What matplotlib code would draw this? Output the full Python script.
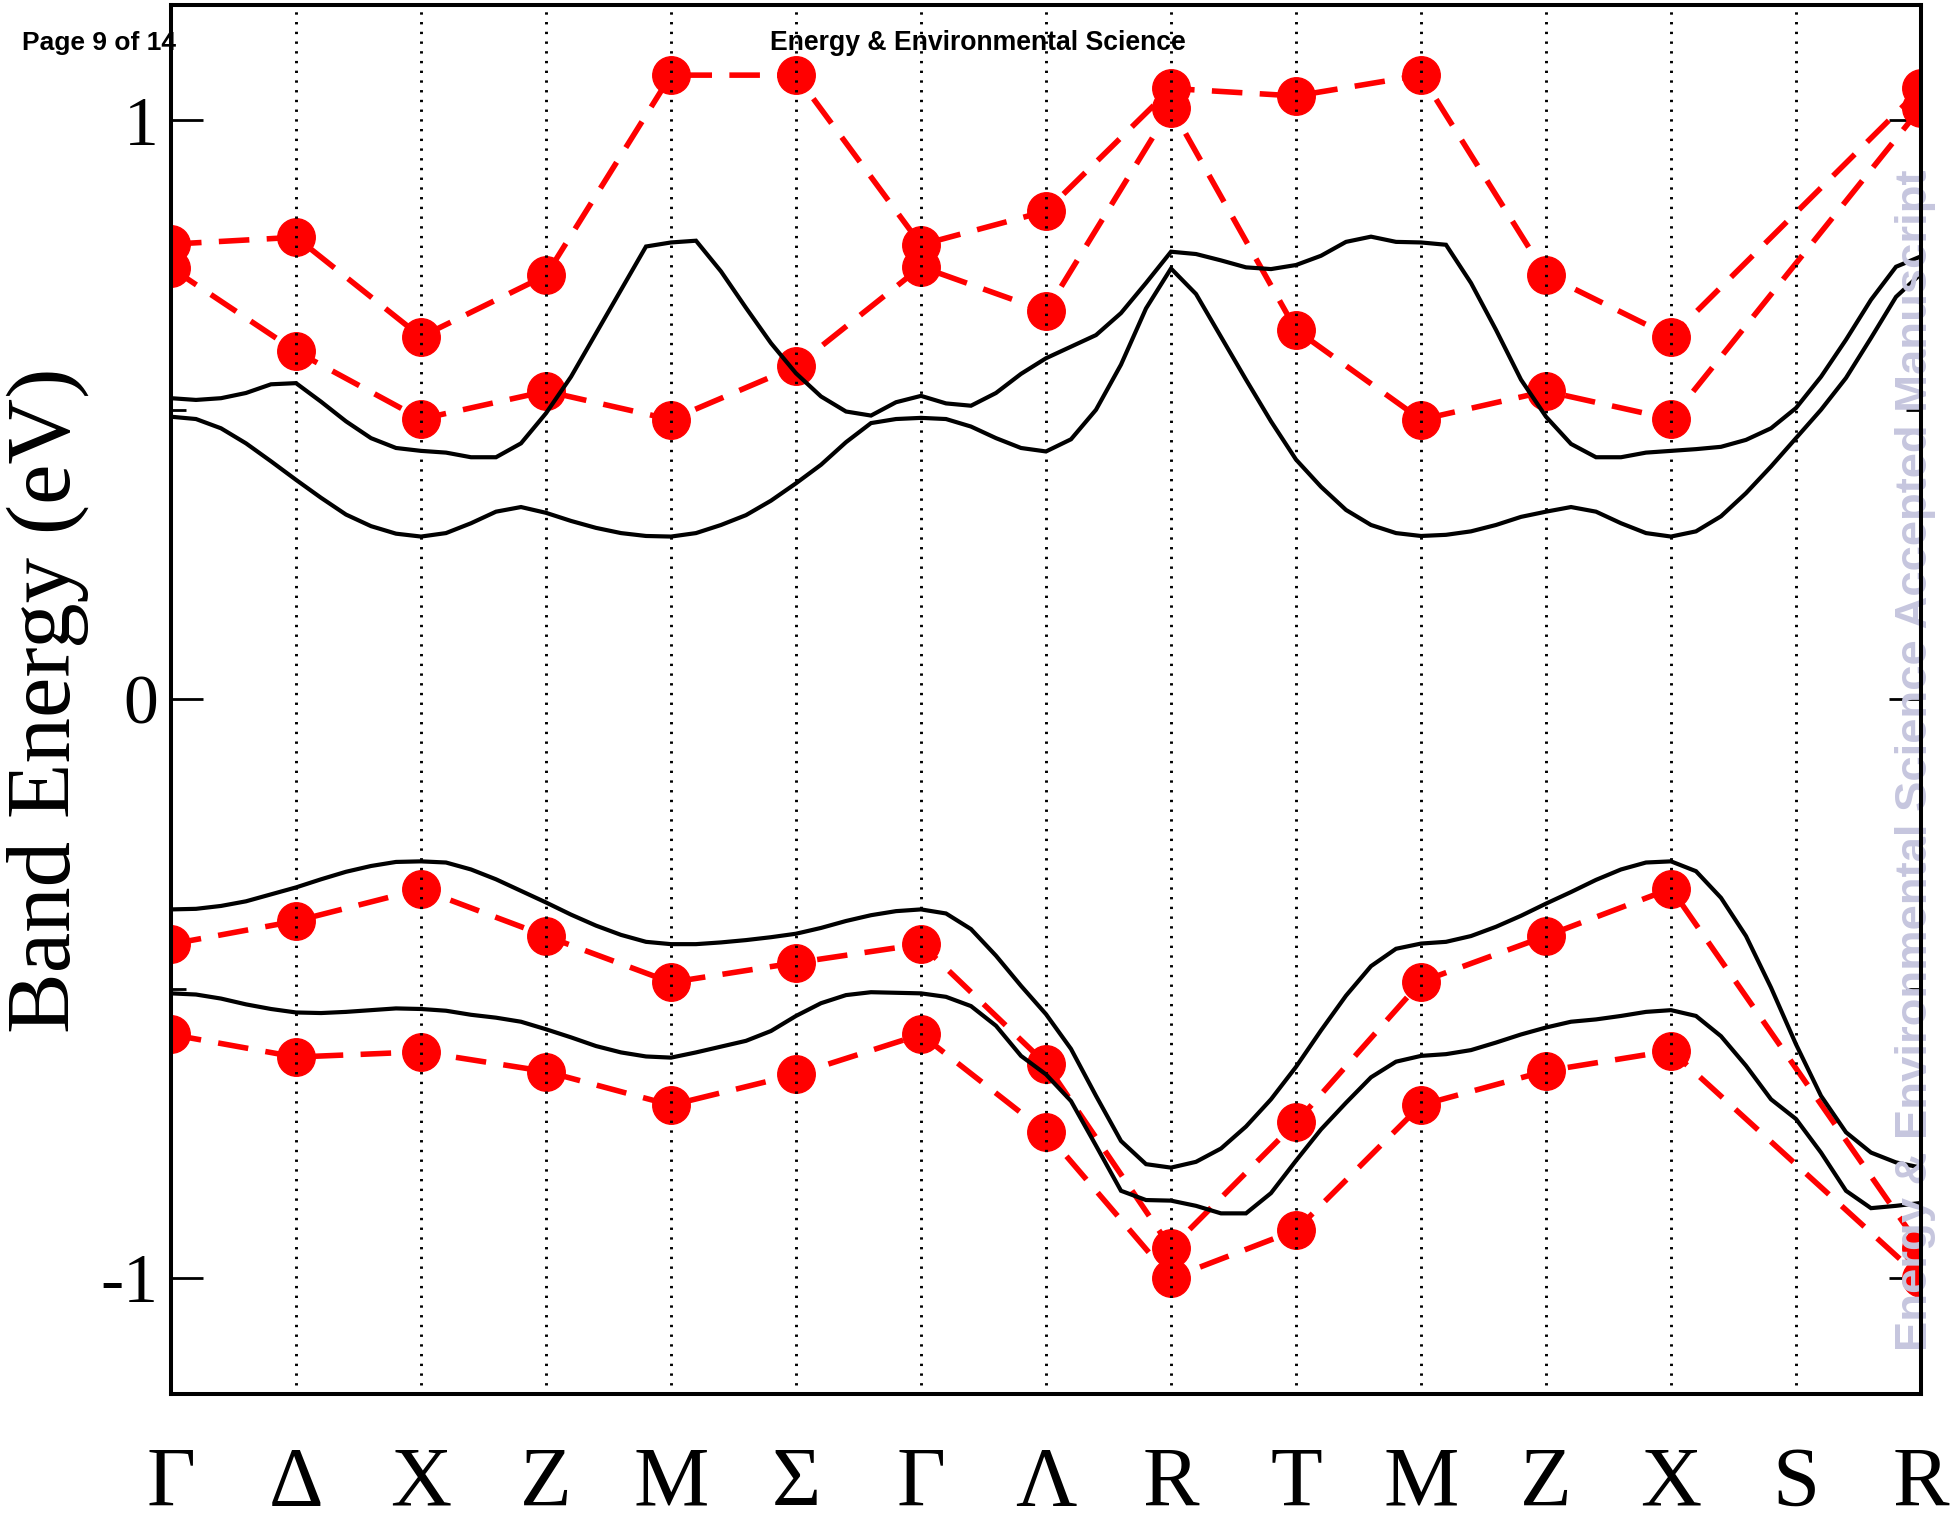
import numpy as np
import matplotlib
matplotlib.use('Agg')
import matplotlib.pyplot as plt

# ---------------- data ----------------
kpoint_labels = ['Γ', 'Δ', 'X', 'Z', 'M', 'Σ', 'Γ', 'Λ', 'R', 'T', 'M', 'Z', 'X', 'S', 'R']

# model energies (red) at the high-symmetry points; None = no point (S)
red_cb_upper = [0.786, 0.798, 0.626, 0.732, 1.078, 1.078, 0.785, 0.843, 1.055, 1.042, 1.078, 0.733, 0.626, None, 1.055]
red_cb_lower = [0.745, 0.601, 0.484, 0.532, 0.483, 0.575, 0.747, 0.670, 1.022, 0.638, 0.483, 0.532, 0.484, None, 1.022]
red_vb_upper = [-0.423, -0.383, -0.328, -0.409, -0.489, -0.455, -0.423, -0.630, -0.948, -0.731, -0.488, -0.409, -0.327, None, -0.948]
red_vb_lower = [-0.579, -0.618, -0.609, -0.643, -0.701, -0.648, -0.579, -0.748, -1.000, -0.917, -0.701, -0.642, -0.607, None, -1.000]

# DFT bands (black), 5 samples per path segment
dft_cb1 = [0.520, 0.517, 0.520, 0.529, 0.544, 0.546, 0.514, 0.480, 0.451, 0.434,
           0.429, 0.426, 0.418, 0.418, 0.442, 0.494, 0.557, 0.632, 0.707, 0.782,
           0.789, 0.792, 0.739, 0.676, 0.615, 0.563, 0.523, 0.497, 0.490, 0.513,
           0.524, 0.511, 0.507, 0.529, 0.562, 0.589, 0.609, 0.629, 0.667, 0.719,
           0.773, 0.769, 0.758, 0.746, 0.743, 0.750, 0.766, 0.790, 0.799, 0.790,
           0.789, 0.785, 0.719, 0.638, 0.552, 0.488, 0.441, 0.418, 0.418, 0.426,
           0.429, 0.432, 0.436, 0.448, 0.468, 0.503, 0.557, 0.621, 0.690, 0.747,
           0.765]
dft_cb2 = [0.488, 0.484, 0.468, 0.442, 0.411, 0.379, 0.348, 0.319, 0.299, 0.286,
           0.281, 0.287, 0.304, 0.324, 0.332, 0.322, 0.308, 0.296, 0.287, 0.282,
           0.281, 0.287, 0.301, 0.318, 0.343, 0.373, 0.405, 0.444, 0.477, 0.484,
           0.486, 0.484, 0.471, 0.451, 0.434, 0.428, 0.449, 0.500, 0.578, 0.675,
           0.744, 0.700, 0.626, 0.552, 0.480, 0.414, 0.367, 0.327, 0.301, 0.287,
           0.282, 0.284, 0.290, 0.301, 0.315, 0.324, 0.332, 0.324, 0.304, 0.287,
           0.281, 0.290, 0.316, 0.356, 0.402, 0.451, 0.500, 0.555, 0.624, 0.695,
           0.735]
dft_vb1 = [-0.363, -0.362, -0.357, -0.349, -0.337, -0.325, -0.311, -0.298, -0.288, -0.281,
           -0.280, -0.282, -0.294, -0.311, -0.331, -0.351, -0.372, -0.391, -0.407, -0.419,
           -0.423, -0.423, -0.420, -0.416, -0.411, -0.405, -0.395, -0.383, -0.373, -0.366,
           -0.363, -0.370, -0.397, -0.443, -0.495, -0.544, -0.604, -0.685, -0.763, -0.803,
           -0.809, -0.799, -0.776, -0.738, -0.691, -0.635, -0.572, -0.512, -0.461, -0.431,
           -0.422, -0.419, -0.409, -0.393, -0.374, -0.353, -0.333, -0.312, -0.294, -0.282,
           -0.280, -0.297, -0.343, -0.409, -0.498, -0.596, -0.685, -0.748, -0.783, -0.800,
           -0.809]
dft_vb2 = [-0.508, -0.510, -0.517, -0.527, -0.535, -0.541, -0.542, -0.540, -0.537, -0.534,
           -0.535, -0.538, -0.545, -0.550, -0.557, -0.570, -0.584, -0.599, -0.610, -0.617,
           -0.619, -0.610, -0.600, -0.590, -0.573, -0.547, -0.525, -0.511, -0.506, -0.507,
           -0.508, -0.514, -0.530, -0.564, -0.616, -0.648, -0.694, -0.771, -0.849, -0.865,
           -0.866, -0.875, -0.888, -0.888, -0.853, -0.797, -0.743, -0.697, -0.653, -0.626,
           -0.616, -0.613, -0.606, -0.593, -0.579, -0.567, -0.557, -0.553, -0.547, -0.540,
           -0.537, -0.547, -0.582, -0.633, -0.691, -0.725, -0.783, -0.849, -0.879, -0.875,
           -0.870]

ytick_values = [-1, 0, 1]
ytick_labels = ['-1', '0', '1']
yminor_values = [-0.5, 0.5]

# ---------------- figure ----------------
plt.rcParams['lines.scale_dashes'] = False
W, H = 1952, 1523
fig = plt.figure(figsize=(W / 100, H / 100), dpi=100)
ax = fig.add_axes([171 / W, 1 - 1394 / H, (1921 - 171) / W, (1394 - 4.5) / H])

serif = ['Liberation Serif', 'DejaVu Serif']
sans = ['Liberation Sans', 'DejaVu Sans']

n_pts = len(kpoint_labels)
kx = np.arange(n_pts)

# red model bands
for band in (red_cb_upper, red_cb_lower, red_vb_upper, red_vb_lower):
    xs = [k for k, v in zip(kx, band) if v is not None]
    ys = [v for v in band if v is not None]
    ax.plot(xs, ys, color='#ff0000', lw=4.0, dashes=(22, 12.5),
            marker='o', ms=27, mfc='#ff0000', mec='#ff0000', zorder=2)

# dotted high-symmetry lines
for k in kx[1:-1]:
    ax.axvline(k, ymin=0.0065, ymax=0.995, color='black', lw=2.1,
               dashes=(1.7, 5.3), zorder=2.1)

# black DFT bands
for band in (dft_cb1, dft_cb2, dft_vb1, dft_vb2):
    kf = np.arange(len(band)) / 5.0
    ax.plot(kf, band, color='black', lw=3.0, zorder=2.2, solid_joinstyle='miter')

ax.set_xlim(0, n_pts - 1)
ax.set_ylim(-1.2, 1.2)

ax.set_xticks(kx)
ax.set_xticklabels(kpoint_labels, family=serif, fontsize=61)
ax.tick_params(axis='x', length=0, pad=38)

ax.set_yticks(ytick_values)
ax.set_yticklabels(ytick_labels, family=serif, fontsize=50)
ax.set_yticks(yminor_values, minor=True)
ax.tick_params(axis='y', which='major', direction='in', length=23, width=2,
               left=True, right=True, pad=9)
ax.tick_params(axis='y', which='minor', direction='in', length=11, width=2,
               left=True, right=True)

for sp in ax.spines.values():
    sp.set_linewidth(2.9)
    sp.set_zorder(3)

# y label
ylab = fig.text(48 / W, 1 - 700 / H, 'Band Energy (eV)', rotation=90,
                ha='center', va='center', family=serif, fontsize=65)

# header texts (behind plot content)
t_page = ax.text(22 / W, 1 - 50 / H, 'Page 9 of 14', transform=fig.transFigure,
                 ha='left', va='baseline', family=sans, weight='bold',
                 fontsize=19, zorder=0.5, clip_on=False)
t_jour = ax.text(978 / W, 1 - 50 / H, 'Energy & Environmental Science',
                 transform=fig.transFigure, ha='center', va='baseline',
                 family=sans, weight='bold', fontsize=19, zorder=0.5, clip_on=False)
t_wm = ax.text(1916 / W, 1 - 760 / H,
               'Energy & Environmental Science Accepted Manuscript',
               transform=fig.transFigure, rotation=90, ha='center', va='center',
               family=sans, weight='bold', fontsize=31, color='#c6c6de',
               zorder=2.6, clip_on=False)


def fit(t, target, along='x'):
    for _ in range(2):
        fig.canvas.draw()
        bb = t.get_window_extent(fig.canvas.get_renderer())
        cur = bb.width if along == 'x' else bb.height
        t.set_fontsize(t.get_fontsize() * target / cur)


fit(t_page, 154, 'x')
fit(t_jour, 416, 'x')
fit(t_wm, 1180, 'y')
fit(ylab, 666, 'y')

fig.savefig('out.png', dpi=100, facecolor='white')
